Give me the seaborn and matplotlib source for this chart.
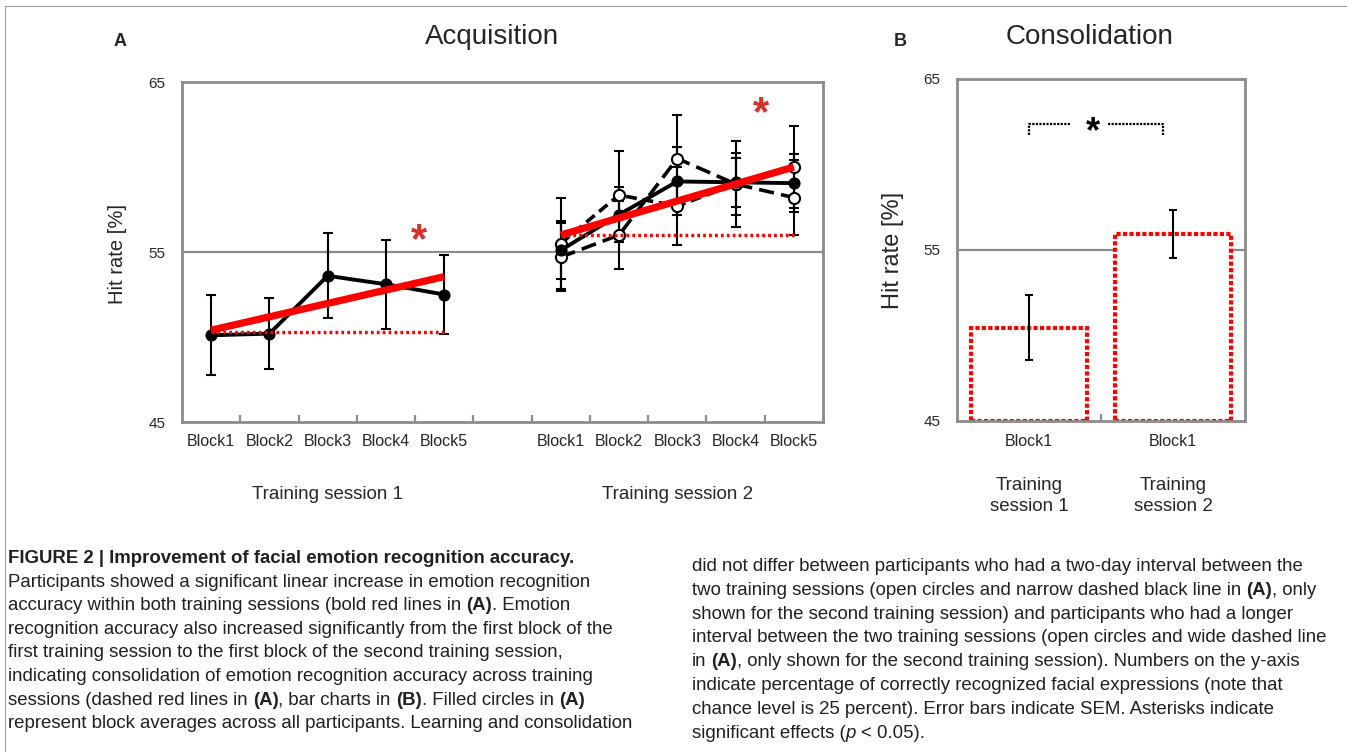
import numpy as np
import matplotlib
matplotlib.use("Agg")
import matplotlib.pyplot as plt
import seaborn as sns
from matplotlib.transforms import blended_transform_factory

# ---------------- data ----------------
blocks = ["Block1", "Block2", "Block3", "Block4", "Block5"]
sessions = ["Training session 1", "Training session 2"]
s1_mean = [50.1, 50.2, 53.6, 53.1, 52.5]
s1_sem = [2.35, 2.1, 2.5, 2.6, 2.35]
s2_mean = [55.1, 57.2, 59.15, 59.1, 59.05]
s2_sem = [1.7, 1.6, 2.0, 1.45, 1.7]
s2_twoday_mean = [55.5, 58.35, 57.7, 59.0, 60.0]
s2_twoday_sem = [2.7, 2.6, 2.3, 2.55, 2.4]
s2_longer_mean = [54.7, 56.0, 60.5, 59.0, 58.2]
s2_longer_sem = [2.0, 2.0, 2.55, 1.8, 2.2]
trend1 = [50.4, 53.55]
trend2 = [56.0, 60.0]
base1 = 50.3
base2 = 56.0
cons_labels = ["Block1", "Block1"]
cons_sessions = ["Training\nsession 1", "Training\nsession 2"]
cons_mean = [50.45, 55.95]
cons_sem = [1.9, 1.4]
yticks = [45, 55, 65]

# ---------------- style ----------------
sns.set_theme(style="white")
plt.rcParams["font.family"] = ["Liberation Sans", "DejaVu Sans"]
GRAY = "#8c8c8c"
RED = "#ff0000"
STAR_RED = "#d7312a"
CAP = "#231f20"

W, H = 1347, 752
fig = plt.figure(figsize=(W / 100, H / 100), dpi=100)
fig.patch.set_facecolor("white")


def rect(l, t, r, b):
    return [l / W, 1 - b / H, (r - l) / W, (b - t) / H]


def fx(px):
    return px / W


def fy(py):
    return 1 - py / H


# ---------------- Panel A ----------------
axA = fig.add_axes(rect(182, 82, 823, 422))
axA.set_facecolor("white")
x1 = np.arange(5)
x2 = np.arange(6, 11)

axA.axhline(55, color=GRAY, lw=1.6, zorder=0.5)

# error bars
for xs, m, e in [(x1, s1_mean, s1_sem), (x2, s2_mean, s2_sem),
                 (x2, s2_twoday_mean, s2_twoday_sem), (x2, s2_longer_mean, s2_longer_sem)]:
    axA.errorbar(xs, m, yerr=e, fmt="none", ecolor="black", elinewidth=1.5,
                 capsize=3.6, capthick=1.5, zorder=2)

# group lines
sns.lineplot(x=x2, y=s2_longer_mean, ax=axA, color="black", lw=2.6,
             linestyle=(0, (4.2, 2.0)), marker="o", markersize=8,
             markerfacecolor="white", markeredgecolor="black", markeredgewidth=1.5,
             legend=False, zorder=3)
sns.lineplot(x=x2, y=s2_twoday_mean, ax=axA, color="black", lw=2.6,
             linestyle=(0, (3.0, 1.6)), marker="o", markersize=8,
             markerfacecolor="white", markeredgecolor="black", markeredgewidth=1.5,
             legend=False, zorder=3)
for xs, m in [(x1, s1_mean), (x2, s2_mean)]:
    sns.lineplot(x=xs, y=m, ax=axA, color="black", lw=2.8, marker="o", markersize=8,
                 markerfacecolor="black", markeredgecolor="black", legend=False, zorder=4)

# consolidation baselines (dotted red) and linear trends (bold red)
for xs, b in [(x1, base1), (x2, base2)]:
    sns.lineplot(x=[xs[0], xs[-1]], y=[b, b], ax=axA, color=RED, lw=2.5,
                 linestyle=(0, (0.8, 0.9)), legend=False, zorder=5)
for xs, tr in [(x1, trend1), (x2, trend2)]:
    sns.lineplot(x=[xs[0], xs[-1]], y=tr, ax=axA, color=RED, lw=5.2,
                 legend=False, zorder=6, solid_capstyle="butt")

axA.text(3.57, 55.0, "*", color=STAR_RED, fontsize=30, fontweight="bold",
         ha="center", va="baseline", zorder=7)
axA.text(9.44, 62.45, "*", color=STAR_RED, fontsize=30, fontweight="bold",
         ha="center", va="baseline", zorder=7)

axA.set_xlim(-0.5, 10.5)
axA.set_ylim(45, 65)
axA.set_xticks(list(x1) + list(x2))
axA.set_xticklabels(blocks + blocks, fontsize=11.5)
axA.set_xticks([0.5, 1.5, 2.5, 3.5, 4.5, 5.5, 6.5, 7.5, 8.5, 9.5], minor=True)
axA.tick_params(axis="x", which="major", length=0, pad=9)
axA.tick_params(axis="x", which="minor", direction="in", length=5, width=1.6,
                color=GRAY, bottom=True)
axA.set_yticks(yticks)
axA.set_yticklabels([str(v) for v in yticks], fontsize=11)
axA.tick_params(axis="y", length=0, pad=12)
axA.set_xlabel("")
axA.set_ylabel("")
for s in axA.spines.values():
    s.set_color(GRAY)
    s.set_linewidth(2)
    s.set_visible(True)

blendA = blended_transform_factory(axA.transData, axA.transAxes)
axA.text(2, -0.212, sessions[0], transform=blendA, ha="center", va="center", fontsize=13.5)
axA.text(8, -0.212, sessions[1], transform=blendA, ha="center", va="center", fontsize=13.5)

fig.text(fx(118), fy(254), "Hit rate [%]", rotation=90, ha="center", va="center", fontsize=14.5)
fig.text(fx(492), fy(37), "Acquisition", ha="center", va="center", fontsize=20)
fig.text(fx(120), fy(42), "A", ha="center", va="center", fontsize=13, fontweight="bold")

# ---------------- Panel B ----------------
axB = fig.add_axes(rect(957, 79, 1245, 421))
axB.set_facecolor("white")
axB.axhline(55, color=GRAY, lw=1.6, zorder=0.5)
sns.barplot(x=cons_sessions, y=cons_mean, ax=axB, color="white", saturation=1,
            edgecolor=RED, linewidth=3, linestyle=(0, (1.0, 0.55)), width=0.8,
            errorbar=None, zorder=2)
for p in axB.patches:
    h = p.get_height()
    p.set_y(45)
    p.set_height(h - 45)
    p.set_facecolor("white")
axB.errorbar([0, 1], cons_mean, yerr=cons_sem, fmt="none", ecolor="black",
             elinewidth=1.5, capsize=3, capthick=1.5, zorder=4)

# significance bracket
axB.plot([0, 0, 0.285], [61.73, 62.35, 62.35], color="black", lw=1.6,
         linestyle=(0, (1.0, 0.6)), zorder=4)
axB.plot([0.547, 0.928, 0.928], [62.35, 62.35, 61.73], color="black", lw=1.6,
         linestyle=(0, (1.0, 0.6)), zorder=4)
axB.text(0.444, 61.3, "*", color="black", fontsize=26, fontweight="bold",
         ha="center", va="baseline", zorder=5)

axB.set_xlim(-0.5, 1.5)
axB.set_ylim(45, 65)
axB.set_xticks([0, 1])
axB.set_xticklabels(cons_labels, fontsize=11.5)
axB.set_xticks([0.5], minor=True)
axB.tick_params(axis="x", which="major", length=0, pad=9)
axB.tick_params(axis="x", which="minor", direction="in", length=5, width=1.6,
                color=GRAY, bottom=True)
axB.set_yticks(yticks)
axB.set_yticklabels([str(v) for v in yticks], fontsize=11)
axB.tick_params(axis="y", length=0, pad=12)
axB.set_xlabel("")
axB.set_ylabel("")
for s in axB.spines.values():
    s.set_color(GRAY)
    s.set_linewidth(2)
    s.set_visible(True)

blendB = blended_transform_factory(axB.transData, axB.transAxes)
for i, lab in enumerate(cons_sessions):
    axB.text(i, -0.165, lab, transform=blendB, ha="center", va="top",
             fontsize=13.5, linespacing=1.3)

fig.text(fx(893), fy(250), "Hit rate [%]", rotation=90, ha="center", va="center", fontsize=17)
fig.text(fx(1090), fy(37), "Consolidation", ha="center", va="center", fontsize=20)
fig.text(fx(900), fy(42), "B", ha="center", va="center", fontsize=13, fontweight="bold")

# frame lines
fig.add_artist(plt.Line2D([fx(5), fx(5)], [fy(6), fy(752)], color="#9a9a9a", lw=0.8))
fig.add_artist(plt.Line2D([fx(5), fx(1347)], [fy(6), fy(6)], color="#9a9a9a", lw=0.8))

# ---------------- caption ----------------
renderer = fig.canvas.get_renderer()
CAP_FAMILY = ["Liberation Sans Narrow", "Liberation Sans", "DejaVu Sans"]


def text_width(s, size, weight="normal", style="normal"):
    t = fig.text(0, 0, s, fontsize=size, family=CAP_FAMILY, fontweight=weight, fontstyle=style)
    w = t.get_window_extent(renderer).width
    t.remove()
    return w


ref_line = "interval between the two training sessions (open circles and wide dashed line"
CS = 10 * 638 / text_width(ref_line, 10)
space_w = text_width("a a", CS) - text_width("aa", CS)


def rich_line(x_px, y_px, segs):
    x = x_px
    for txt, st in segs:
        weight = "bold" if st == "b" else "normal"
        style = "italic" if st == "i" else "normal"
        lead = len(txt) - len(txt.lstrip(" "))
        trail = len(txt) - len(txt.rstrip(" "))
        core = txt.strip(" ")
        x += lead * space_w
        if core:
            t = fig.text(fx(x), fy(y_px), core, fontsize=CS, family=CAP_FAMILY,
                         fontweight=weight, fontstyle=style, color=CAP,
                         ha="left", va="baseline")
            x += t.get_window_extent(renderer).width
        x += trail * space_w


left_lines = [
    [("FIGURE 2 | Improvement of facial emotion recognition accuracy.", "b")],
    [("Participants showed a significant linear increase in emotion recognition", "n")],
    [("accuracy within both training sessions (bold red lines in ", "n"), ("(A)", "b"), (". Emotion", "n")],
    [("recognition accuracy also increased significantly from the first block of the", "n")],
    [("first training session to the first block of the second training session,", "n")],
    [("indicating consolidation of emotion recognition accuracy across training", "n")],
    [("sessions (dashed red lines in ", "n"), ("(A)", "b"), (", bar charts in ", "n"), ("(B)", "b"),
     (". Filled circles in ", "n"), ("(A)", "b")],
    [("represent block averages across all participants. Learning and consolidation", "n")],
]
right_lines = [
    [("did not differ between participants who had a two-day interval between the", "n")],
    [("two training sessions (open circles and narrow dashed black line in ", "n"), ("(A)", "b"), (", only", "n")],
    [("shown for the second training session) and participants who had a longer", "n")],
    [("interval between the two training sessions (open circles and wide dashed line", "n")],
    [("in ", "n"), ("(A)", "b"), (", only shown for the second training session). Numbers on the y-axis", "n")],
    [("indicate percentage of correctly recognized facial expressions (note that", "n")],
    [("chance level is 25 percent). Error bars indicate SEM. Asterisks indicate", "n")],
    [("significant effects (", "n"), ("p", "i"), (" < 0.05).", "n")],
]
for i, segs in enumerate(left_lines):
    rich_line(8, 563 + 23.6 * i, segs)
for i, segs in enumerate(right_lines):
    rich_line(692, 571 + 23.8 * i, segs)

fig.savefig("out.png", dpi=100)
